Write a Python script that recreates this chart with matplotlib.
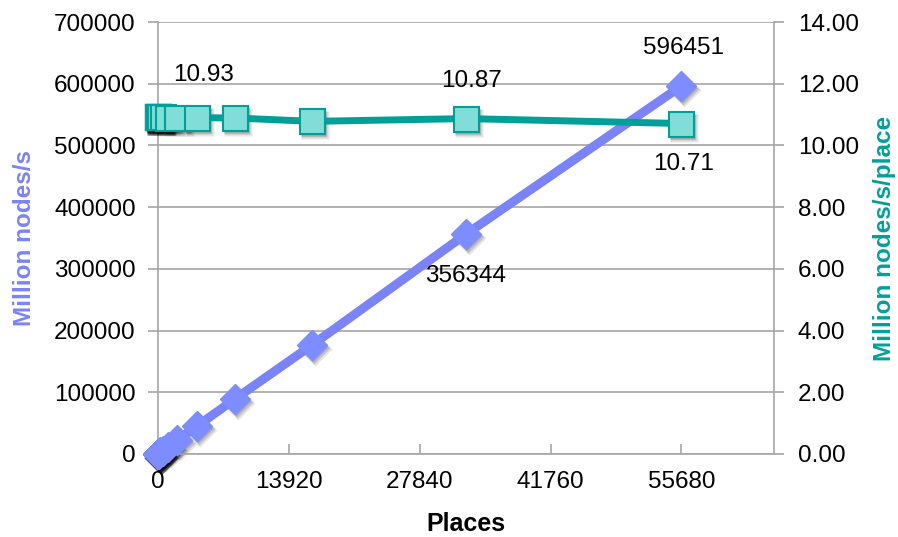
import matplotlib
matplotlib.use("Agg")
import matplotlib.pyplot as plt
from matplotlib.transforms import ScaledTranslation
from matplotlib.ticker import FixedLocator, FuncFormatter

plt.rcParams['font.family'] = ['Liberation Sans', 'DejaVu Sans']

# Benchmark results: throughput vs number of places
places = [1, 2, 4, 8, 16, 32, 64, 128, 256, 512, 1024, 2048, 4096, 8192,
          16384, 32768, 55680]
nodes_per_s = [10.93, 21.86, 43.72, 87.36, 174.7, 349.4, 698.9, 1396.5,
               2793.0, 5585.9, 11161.6, 22323.2, 44646.4, 89210.9,
               176619.5, 356344, 596451]
nodes_per_s_per_place = [10.93, 10.93, 10.93, 10.92, 10.92, 10.92, 10.92,
                         10.91, 10.91, 10.91, 10.90, 10.90, 10.90, 10.89,
                         10.78, 10.87, 10.71]

x_ticks = [0, 13920, 27840, 41760, 55680]
left_ticks = [0, 100000, 200000, 300000, 400000, 500000, 600000, 700000]
right_ticks = [0, 2, 4, 6, 8, 10, 12, 14]

blue = '#7A84F8'
blue_marker = '#7D8DFF'
teal = '#00A098'
teal_marker = '#80DDD7'
grid_gray = '#A6A6A6'
fs = 17.5

fig = plt.figure(figsize=(8.98, 5.37), dpi=100)
ax = fig.add_axes([0.176, 0.1546, 0.686, 0.8044])
ax2 = ax.twinx()

# soft drop shadows under the markers
for a, y, m, ms in ((ax, nodes_per_s, 'D', 15), (ax2, nodes_per_s_per_place, 's', 18)):
    for k, (dx, dy, al) in enumerate(((3, -4, 0.10), (2, -3, 0.14), (1, -2, 0.14))):
        off = ScaledTranslation(dx / 100, dy / 100, fig.dpi_scale_trans)
        a.plot(places, y, linestyle='none', marker=m, ms=ms + 2 - k,
               markerfacecolor='black', markeredgecolor='none', alpha=al,
               transform=a.transData + off, zorder=2, clip_on=False)

ax.plot(places, nodes_per_s, color=blue, lw=6.5, marker='D', ms=15,
        markerfacecolor=blue_marker, markeredgecolor=blue_marker,
        solid_joinstyle='round', zorder=3, clip_on=False)
ax2.plot(places, nodes_per_s_per_place, color=teal, lw=5, marker='s', ms=18,
         markerfacecolor=teal_marker, markeredgecolor=teal, markeredgewidth=1.5,
         zorder=3, clip_on=False)

ax.set_xlim(0, 65536)
ax.set_ylim(0, 700000)
ax2.set_ylim(0, 14)

ax.xaxis.set_major_locator(FixedLocator(x_ticks))
ax.yaxis.set_major_locator(FixedLocator(left_ticks))
ax2.yaxis.set_major_locator(FixedLocator(right_ticks))
ax2.yaxis.set_major_formatter(FuncFormatter(lambda v, p: f"{v:.2f}"))

ax.grid(axis='y', color=grid_gray, lw=1.2)
ax.set_axisbelow(True)

for a in (ax, ax2):
    a.spines['top'].set_visible(False)
    for s in ('left', 'right', 'bottom'):
        a.spines[s].set_color(grid_gray)
        a.spines[s].set_linewidth(1.2)
ax.spines['right'].set_visible(False)
ax2.spines['left'].set_visible(False)
ax2.spines['bottom'].set_visible(False)

ax.tick_params(axis='y', direction='out', length=7, width=1.2, color=grid_gray,
               labelsize=fs, pad=9)
ax.tick_params(axis='x', direction='in', length=7, width=1.2, color=grid_gray,
               labelsize=fs, pad=12)
ax2.tick_params(axis='y', direction='out', length=7, width=1.2, color=grid_gray,
                labelsize=fs, pad=10)

ax.set_xlabel('Places', fontsize=18, fontweight='bold', labelpad=14)
ax.set_ylabel('Million nodes/s', fontsize=fs, fontweight='bold', color=blue,
              labelpad=13)
ax2.set_ylabel('Million nodes/s/place', fontsize=fs, fontweight='bold',
               color=teal, labelpad=10)

# Value labels
ax.annotate(f"{nodes_per_s[-1]:d}", (places[-1], nodes_per_s[-1]),
            xytext=(2, 38), textcoords='offset pixels', ha='center',
            va='center', fontsize=fs, annotation_clip=False)
ax.annotate(f"{nodes_per_s[-2]:d}", (places[-2], nodes_per_s[-2]),
            xytext=(0, -42), textcoords='offset pixels', ha='center',
            va='center', fontsize=fs, annotation_clip=False)
ax2.annotate(f"{nodes_per_s_per_place[0]:.2f}", (places[0], nodes_per_s_per_place[0]),
             xytext=(46, 42), textcoords='offset pixels', ha='center',
             va='center', fontsize=fs, annotation_clip=False)
ax2.annotate(f"{nodes_per_s_per_place[-2]:.2f}", (places[-2], nodes_per_s_per_place[-2]),
             xytext=(5, 38), textcoords='offset pixels', ha='center',
             va='center', fontsize=fs, annotation_clip=False)
ax2.annotate(f"{nodes_per_s_per_place[-1]:.2f}", (places[-1], nodes_per_s_per_place[-1]),
             xytext=(2, -40), textcoords='offset pixels', ha='center',
             va='center', fontsize=fs, annotation_clip=False)

fig.savefig('out.png', dpi=100)
